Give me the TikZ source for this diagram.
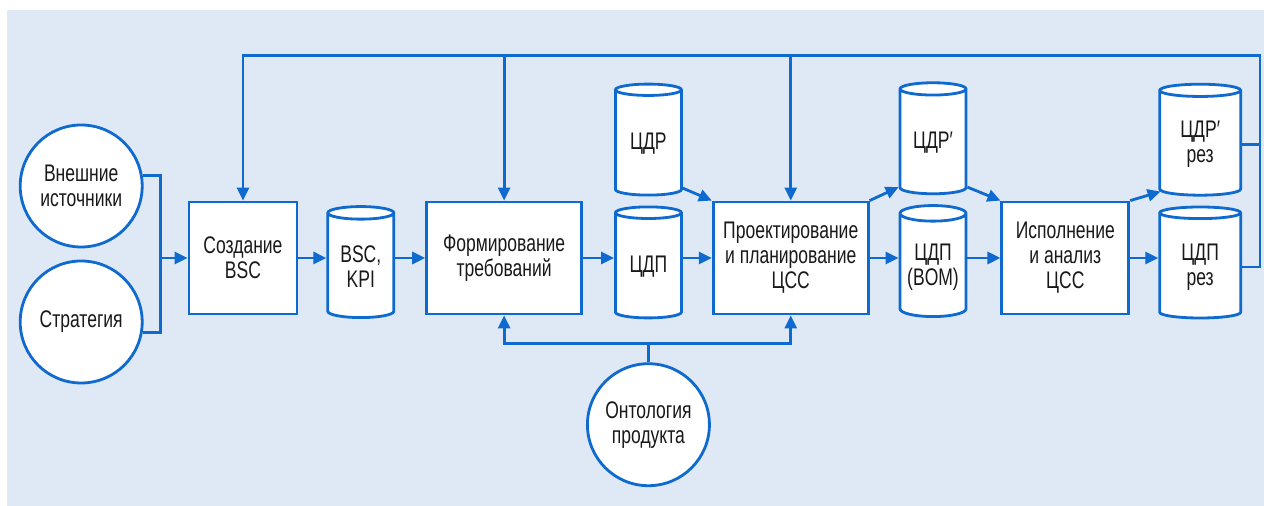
\documentclass[tikz,border=0pt]{standalone}
\usepackage{fontspec}
\setmainfont[FakeStretch=0.73]{Liberation Sans}
\usetikzlibrary{arrows.meta,positioning,shapes.geometric}
\definecolor{lineblue}{RGB}{14,106,206}
\definecolor{bgblue}{RGB}{223,232,245}

\begin{document}
\begin{tikzpicture}[
    node distance=15pt and 15pt,
    every node/.style={font=\fontsize{12}{12.5}\selectfont, text=black!90},
    proc/.style={rectangle, draw=lineblue, fill=white, line width=1.4pt, minimum width=77.5pt, minimum height=56pt, align=center, inner sep=2pt},
    store/.style={cylinder, shape border rotate=90, aspect=0.28, draw=lineblue, fill=white, line width=1.4pt, minimum width=33pt, minimum height=55.5pt, align=center, inner sep=1pt},
    src/.style={circle, draw=lineblue, fill=white, line width=1.4pt, minimum size=61pt, align=center, inner sep=1pt},
    link/.style={draw=lineblue, line width=1.4pt},
    arrow/.style={link, -{Triangle[length=6.5pt, width=6pt]}},
]

% Background
\fill[bgblue] (3.5pt,-5pt) rectangle (632pt,-253pt);
\useasboundingbox (0,0) rectangle (632pt,-253pt);

% Main row
\node[proc, minimum width=54pt] (sozd) at (121.5pt,-129pt) {Создание\\BSC};
\node[store, right=14pt of sozd, yshift=-4.5pt] (bsc) {BSC,\\KPI};
\node[proc, right=15pt of sozd.east -| bsc.0] (form) {Формирование\\требований};
\node[store, right=15.5pt of form, yshift=-4.5pt] (cdp) {ЦДП};
\node[proc, right=14.5pt of form.east -| cdp.0] (proekt) {Проектирование\\и планирование\\ЦСС};
\node[store, right=14.5pt of proekt, yshift=-4.5pt] (bom) {ЦДП\\(BOM)};
\node[proc, minimum width=63.5pt, right=16.5pt of proekt.east -| bom.0] (isp) {Исполнение\\и анализ\\ЦСС};
\node[store, minimum width=40.5pt, right=14pt of isp, yshift=-4.5pt] (cdpres) {ЦДП\\рез};

% Upper stores
\node[store, above=4.5pt of cdp] (cdr) {ЦДР};
\node[store, above=4.5pt of bom] (cdrp) {ЦДР′};
\node[store, minimum width=40.5pt, above=4.5pt of cdpres] (cdrres) {ЦДР′\\рез};

% Sources
\node[src, left=22pt of sozd, yshift=36pt] (vnesh) {Внешние\\источники};
\node[src, left=22pt of sozd, yshift=-32pt] (strat) {Стратегия};
\node[src, below=21.5pt of cdp] (onto) {Онтология\\продукта};

% Inputs
\coordinate[left=13.5pt of sozd.west] (lbus);
\draw[link] (vnesh.10) -| (lbus);
\draw[link] (strat.-10) -| (lbus);
\draw[arrow] (lbus) -- (sozd);

% Main flow
\draw[arrow] (sozd.east) -- (sozd.east -| bsc.180);
\draw[arrow] (bsc.0 |- form) -- (form.west);
\draw[arrow] (form.east) -- (form.east -| cdp.180);
\draw[arrow] (cdp.0 |- proekt) -- (proekt.west);
\draw[arrow] (proekt.east) -- (proekt.east -| bom.180);
\draw[arrow] (bom.0 |- isp) -- (isp.west);
\draw[arrow] (isp.east) -- (isp.east -| cdpres.180);

% Diagonals
\draw[arrow] (cdr.-52) -- (proekt.north west);
\draw[arrow] (proekt.north east) -- (cdrp.-128);
\draw[arrow] (cdrp.-52) -- (isp.north west);
\draw[arrow] (isp.north east) -- (cdrres.-130);

% Feedback
\coordinate[right=9pt of cdpres.0] (rbus);
\coordinate[above=72.5pt of sozd.north] (topl);
\draw[arrow] (cdpres.0) -- (rbus) |- (topl) -- (sozd.north);
\draw[link] (cdrres.0) -- (cdrres.0 -| rbus);
\draw[arrow] (topl -| form.north) -- (form.north);
\draw[arrow] (topl -| proekt.north) -- (proekt.north);

% Ontology
\coordinate[below=14pt of form.south] (bbus);
\draw[arrow] (onto.north) |- (bbus) -- (form.south);
\draw[arrow] (onto.north) |- (bbus -| proekt) -- (proekt.south);

\end{tikzpicture}
\end{document}
